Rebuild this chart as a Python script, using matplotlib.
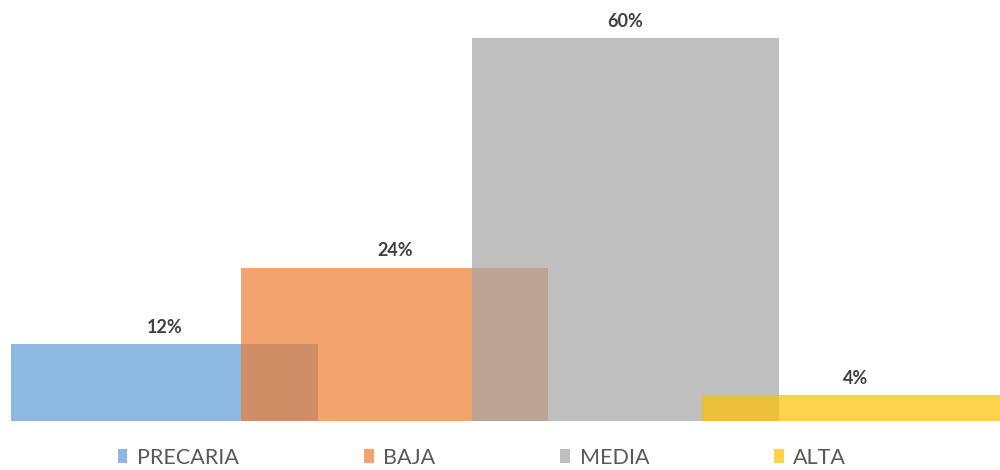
import matplotlib
matplotlib.use("Agg")
import matplotlib.pyplot as plt
import numpy as np

categories = ["PRECARIA", "BAJA", "MEDIA", "ALTA"]
values = [12, 24, 60, 4]
colors = ["#5B9BD5", "#ED7D31", "#A5A5A5", "#FFC000"]
labels = ["12%", "24%", "60%", "4%"]

plt.rcParams['font.family'] = ['Lato', 'DejaVu Sans']

fig = plt.figure(figsize=(10, 4.7), dpi=100)
ax = fig.add_axes([0, (470 - 421) / 470, 1, 421 / 470])

x = np.arange(len(categories))
step = 230.3
width = 307 / step
for i, (c, v, col) in enumerate(zip(categories, values, colors)):
    b = ax.bar(x[i], v, width=width, color=col, alpha=0.7, label=c, zorder=2 + i)
    ax.bar_label(b, labels=[labels[i]], padding=6, fontsize=13, fontweight='bold',
                 color='#404040')

ax.set_xlim(-164.5 / step, (1000 - 164.5) / step)
ax.set_ylim(0, 421 / (383 / 60))
ax.set_xticks([])
ax.set_yticks([])
for s in ["top", "left", "right", "bottom"]:
    ax.spines[s].set_visible(False)

leg = fig.legend(loc='center', bbox_to_anchor=(0.482, (470 - 458) / 470), ncol=4,
                 frameon=False, prop={'family': ['Lato'], 'size': 15.5},
                 handlelength=0.45, handleheight=0.62,
                 handletextpad=0.45, columnspacing=5.8, borderpad=0)
for t in leg.get_texts():
    t.set_color('#595959')
for h in leg.legend_handles:
    h.set_alpha(0.7)

fig.savefig("out.png", dpi=100)
